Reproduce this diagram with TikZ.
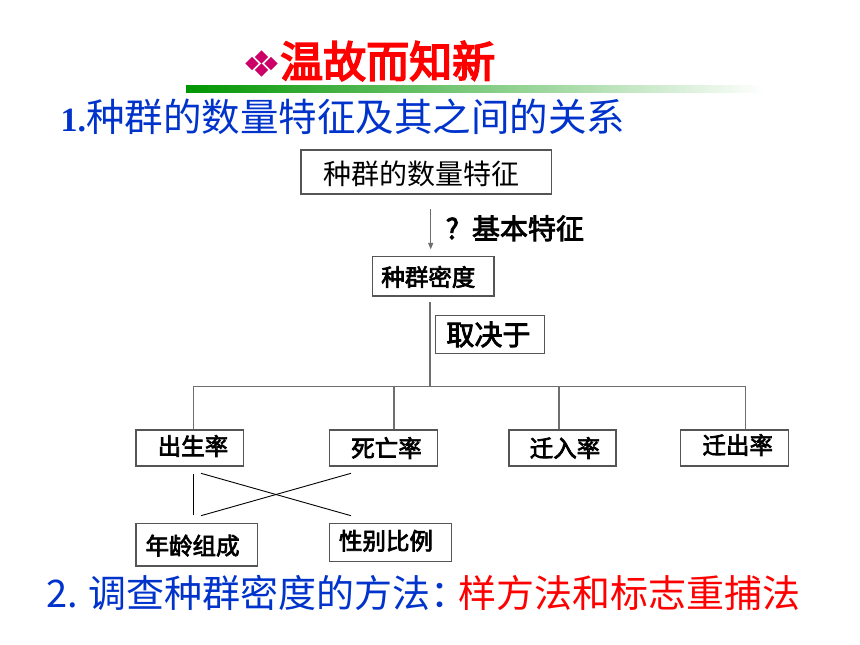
\documentclass[tikz,border=0pt]{standalone}
\usepackage{fontspec}
\usetikzlibrary{arrows.meta}
\newfontfamily\cjk{Noto Sans CJK SC}
\newfontfamily\cjkb{Noto Sans CJK SC}[FakeBold=3]
\newfontfamily\cjkt{Noto Sans CJK SC}[FakeBold=4]
\newfontfamily\serifb{Liberation Serif}
\definecolor{titlered}{RGB}{255,0,0}
\definecolor{textblue}{RGB}{0,51,204}
\definecolor{iconmag}{RGB}{204,0,102}
\definecolor{barg0}{RGB}{0,150,0}
\definecolor{barg1}{RGB}{170,218,170}
\definecolor{boxline}{RGB}{85,85,85}
\definecolor{connc}{RGB}{110,110,110}
\begin{document}
\begin{tikzpicture}[x=1pt,y=-1pt,
  box/.style={draw=boxline, line width=1.2pt, inner sep=0pt, fill=white},
  lab28/.style={font=\cjk\fontsize{28pt}{30pt}\selectfont, inner sep=0pt},
  lab28b/.style={font=\cjkb\fontsize{28pt}{30pt}\selectfont, inner sep=0pt},
  lab23b/.style={font=\cjkb\fontsize{23.5pt}{25pt}\selectfont, inner sep=0pt},
  conn/.style={draw=connc, line width=1.2pt},
  xline/.style={draw=black, line width=0.9pt},
  diam/.style={fill=iconmag, rotate=45, minimum size=9.5pt, inner sep=0pt}
]
\useasboundingbox (0,0) rectangle (860,645);
\fill[white] (0,0) rectangle (860,645);

% title
\node[diam] (d1) at (261.5,57) {};
\node[diam] (d2) at (261.5,70) {};
\node[diam] (d3) at (252,63.5) {};
\node[diam] (d4) at (271,63.5) {};
\node[anchor=west, inner sep=0pt, text=titlered,
      font=\cjkt\fontsize{43pt}{45pt}\selectfont] (title) at (280,61) {温故而知新};
\fill[left color=barg0, middle color=barg1, right color=white] (186,85) rectangle (765,92.7);

\node[anchor=west, inner sep=0pt, text=textblue,
      font=\cjk\fontsize{38.5pt}{40pt}\selectfont] (h1) at (60.5,116.7)
      {{\serifb\bfseries\fontsize{34pt}{36pt}\selectfont 1.}种群的数量特征及其之间的关系};

% boxes
\node[box, minimum width=250.7pt, minimum height=44pt,
      label={[lab28, xshift=-4.6pt, yshift=-2pt]center:种群的数量特征}] (n0) at (426.35,172) {};
\node[box, minimum width=121.3pt, minimum height=39.3pt,
      label={[lab23b, xshift=-5pt, yshift=-0.6pt]center:种群密度}] (n1) at (433.35,276.35) {};
\node[box, minimum width=108.6pt, minimum height=37.6pt,
      label={[lab28b, xshift=-1.6pt]center:取决于}] (q) at (490,334.5) {};

\node[box, minimum width=107.3pt, minimum height=36pt,
      label={[lab23b, xshift=3.3pt, yshift=2pt]center:出生率}] (a) at (189.65,448) {};
\node[box, minimum width=108pt, minimum height=36pt,
      label={[lab23b, xshift=3.2pt]center:死亡率}] (b) at (383.3,448) {};
\node[box, minimum width=107pt, minimum height=36pt,
      label={[lab23b, xshift=2.5pt]center:迁入率}] (c) at (562.5,448) {};
\node[box, minimum width=107.6pt, minimum height=36pt,
      label={[lab23b, xshift=3.2pt, yshift=3pt]center:迁出率}] (d) at (734.5,448) {};
\node[box, minimum width=121.7pt, minimum height=42.7pt,
      label={[lab23b, xshift=-4.3pt, yshift=-1pt]center:年龄组成}] (e) at (196.85,544.65) {};
\node[box, minimum width=122.4pt, minimum height=38.4pt,
      label={[lab23b, xshift=-4.5pt, yshift=1.7pt]center:性别比例}] (f) at (390.5,542.5) {};

% arrow with label
\draw[conn, -{Triangle[length=6.5pt,width=5pt]}]
  ([xshift=4.35pt,yshift=-14.3pt]n0.south) -- ([xshift=-2.65pt,yshift=6.7pt]n1.north);
\node[anchor=west, inner sep=0pt, font=\cjkb\fontsize{28pt}{30pt}\selectfont]
  (lbl) at (445.5,228.3) {?\hspace{13pt}基本特征};

% tree
\coordinate (J) at (430,386.7);
\coordinate (ja) at (193.3,386.7);
\coordinate (jb) at (394,386.7);
\coordinate (jc) at (559,386.7);
\coordinate (jd) at (745.7,386.7);
\draw[conn] ([yshift=-5.7pt]n1.south -| J) -- (J);
\draw[conn] (ja) -- (jd);
\draw[conn] (ja) -- (ja |- a.north);
\draw[conn] (jb) -- (jb |- b.north);
\draw[conn] (jc) -- (jc |- c.north);
\draw[conn] (jd) -- (jd |- d.north);

% lower links
\draw[xline] ([yshift=-7.3pt]a.south -| ja) -- ([yshift=7.6pt]e.north -| ja);
\coordinate (xa) at (201,473.3);
\coordinate (xb) at (351,473.3);
\coordinate (xe) at (201,515.7);
\coordinate (xf) at (351,515.7);
\draw[xline] (xa) -- (xf);
\draw[xline] (xb) -- (xe);

% bottom line
\node[anchor=west, inner sep=0pt, text=textblue,
      font=\cjk\fontsize{38pt}{40pt}\selectfont] (h2) at (45.8,593.3)
      {2. 调查种群密度的方法：\hspace{-11pt}\textcolor{titlered}{样方法和标志重捕法}};
\end{tikzpicture}
\end{document}
